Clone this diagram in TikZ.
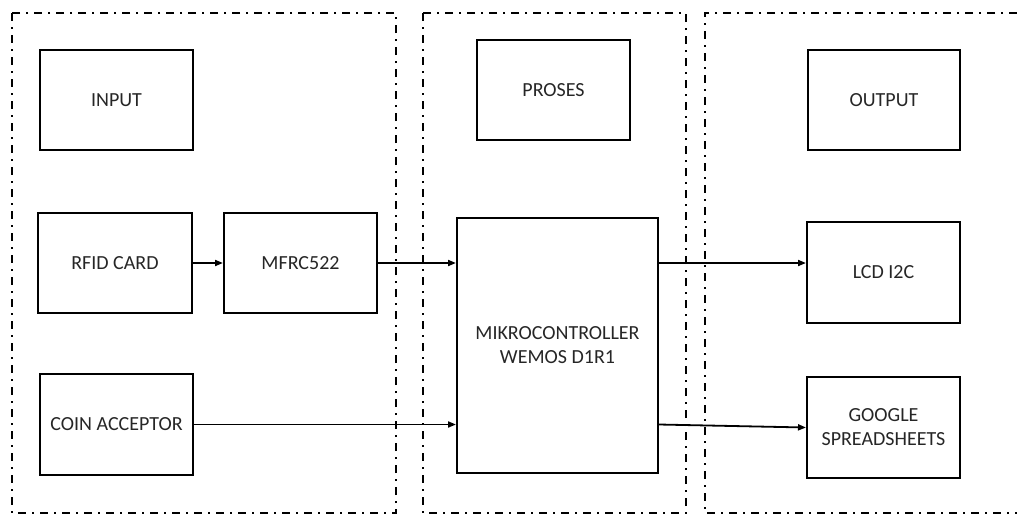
\documentclass[tikz,border=0pt]{standalone}
\usepackage{fontspec}
\setmainfont{Carlito}
\usepackage{tikz}
\usetikzlibrary{arrows.meta}

\begin{document}
\begin{tikzpicture}[
  x=0.5pt, y=-0.5pt,
  blok/.style={draw, line width=1pt, font=\fontsize{10}{12}\selectfont,
    align=center, inner sep=0pt, text=black!85},
  panel/.style={line width=1.2pt, dash pattern=on 4pt off 3pt on 1pt off 3pt},
  panah/.style={line width=0.9pt, -{Triangle[length=4pt, width=3pt]}},
]
  \useasboundingbox (0,0) rectangle (1017,515);

  % the three panels
  \draw[panel] (12,13) rectangle (396,513);
  \draw[panel] (423,13) rectangle (686,513);
  \draw[panel] (1017,13) -- (705,13) -- (705,513) -- (1017,513);

  % headings
  \node[blok, minimum width=76.5pt, minimum height=50pt] (input)  at (116.5,100) {INPUT};
  \node[blok, minimum width=76.5pt, minimum height=50pt] (proses) at (553.5,90)  {PROSES};
  \node[blok, minimum width=76pt,   minimum height=50pt] (output) at (884,100)   {OUTPUT};

  % input side
  \node[blok, minimum width=77pt,   minimum height=50pt]   (rfid) at (115,263)   {RFID CARD};
  \node[blok, minimum width=76.5pt, minimum height=50pt]   (mfrc) at (300.5,263) {MFRC522};
  \node[blok, minimum width=76.5pt, minimum height=50.5pt] (coin) at (116.5,424.5) {COIN ACCEPTOR};

  % process
  \node[blok, minimum width=100.5pt, minimum height=127.5pt] (wemos) at (557.5,345.5)
    {MIKROCONTROLLER\\WEMOS D1R1};

  % output side
  \node[blok, minimum width=76.5pt, minimum height=50.5pt] (lcd)    at (883.5,272.5) {LCD I2C};
  \node[blok, minimum width=76.5pt, minimum height=50.5pt] (google) at (883.5,427.5) {GOOGLE\\SPREADSHEETS};

  \draw[panah] (rfid) -- (mfrc);
  \draw[panah] (mfrc) -- (mfrc -| wemos.west);
  \draw[panah] (coin) -- (coin -| wemos.west);
  \draw[panah] (wemos.east |- mfrc) -- (lcd.west |- mfrc);
  \draw[panah] (wemos.east |- coin) -- (google.west);
\end{tikzpicture}
\end{document}
